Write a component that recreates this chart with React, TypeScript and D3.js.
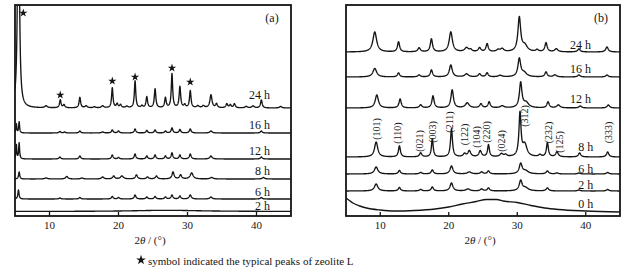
import React from 'react';
import * as d3 from 'd3';

const W = 637, H = 275;
const xDomain: [number, number] = [5, 45];
const xTicks = [10, 20, 30, 40];

// ---------- Panel (a) ----------
const seriesA = ['24 h', '16 h', '12 h', '8 h', '6 h', '2 h'];
const offsetsA = [108, 83, 57, 37, 17, 4.5];
const labelLevelA = [121, 91, 65, 45, 24, 10];
const labelXA = [38.9, 38.9, 38.9, 39.8, 39.8, 39.8];
// peaks: [2theta, height, hwhm]
const peaksA24 = [
  [5.5, 300, 0.13], [9.5, 2, 0.2], [11.56, 8, 0.13], [12.1, 3, 0.15], [14.4, 10.5, 0.13],
  [15.3, 2, 0.2], [16.5, 1, 0.2], [17.7, 2, 0.2], [19.1, 20, 0.12], [19.8, 4, 0.15],
  [20.3, 3, 0.15], [21.2, 1.5, 0.2], [22.4, 27, 0.12], [23.4, 2, 0.15], [24.1, 11, 0.13],
  [25.3, 19, 0.13], [26.8, 10, 0.13], [27.75, 34, 0.12], [28.9, 21, 0.13], [29.6, 3, 0.15],
  [30.4, 17, 0.13], [31.5, 2, 0.2], [32.3, 2, 0.2], [33.4, 13, 0.18], [34.2, 4, 0.15],
  [35.7, 4, 0.15], [36.2, 3, 0.15], [36.8, 4, 0.15], [38.5, 1.5, 0.2], [39.5, 2, 0.2],
  [40.7, 8, 0.14], [43.5, 1.5, 0.2],
];
const peaksA16 = [
  [5.2, 9, 0.07], [5.6, 11, 0.08], [11.5, 1.5, 0.15], [12.2, 1, 0.15], [14.4, 2, 0.15],
  [17.7, 1, 0.2], [19.1, 3, 0.14], [20, 2, 0.15], [22.4, 4, 0.14], [24.1, 2.5, 0.14],
  [25.3, 3, 0.14], [26.8, 2, 0.14], [27.75, 5, 0.14], [28.9, 3.5, 0.14], [30.4, 4, 0.15],
  [33.4, 2, 0.2], [40.7, 2, 0.15],
];
const peaksA12 = [
  [5.2, 14, 0.07], [5.6, 16, 0.08], [11.5, 2, 0.15], [14.4, 3, 0.15], [19.1, 4, 0.14],
  [20, 1.5, 0.15], [22.4, 5, 0.14], [24.1, 3, 0.14], [25.3, 4, 0.14], [26.8, 3, 0.14],
  [27.75, 6, 0.14], [28.9, 4, 0.14], [30.4, 5, 0.15], [33.4, 3, 0.2], [40.7, 2, 0.15],
];
const peaksA8 = [
  [5.6, 7, 0.1], [9.5, 1, 0.25], [12.5, 2.5, 0.2], [14.7, 1, 0.2], [17.7, 2, 0.2],
  [19.3, 3, 0.18], [20.5, 3, 0.25], [22.6, 4, 0.18], [24.2, 2, 0.18], [25.5, 3, 0.18],
  [27.9, 7, 0.18], [29, 4, 0.18], [30.6, 6, 0.25], [33.5, 1.5, 0.25], [41, 1.5, 0.2],
];
const peaksA6 = [
  [5.5, 9, 0.1], [11.5, 1, 0.15], [14.4, 1.5, 0.15], [19.1, 2.5, 0.15], [20, 1.5, 0.15],
  [22.4, 4, 0.15], [24.1, 2, 0.15], [25.3, 2.5, 0.15], [26.8, 2, 0.15], [27.75, 4, 0.15],
  [28.9, 3, 0.15], [30.4, 4, 0.18], [33.4, 2, 0.2], [40.7, 1.5, 0.15],
];
const peaksA2 = [[27, 1.2, 6]];
const peaksA = [peaksA24, peaksA16, peaksA12, peaksA8, peaksA6, peaksA2];
const starsA = [6.2, 11.56, 19.1, 22.4, 27.75, 30.4];
const starLevelA = [203, 121, 135, 139, 148, 134];

// ---------- Panel (b) ----------
const seriesB = ['24 h', '16 h', '12 h', '8 h', '6 h', '2 h', '0 h'];
const offsetsB = [164, 139, 108, 59, 42, 25, 0];
const labelLevelB = [171, 147.7, 117.7, 69, 47.7, 31, 12];
const labelXB = [37.7, 37.7, 37.7, 38.9, 38.9, 38.9, 38.9];
const peaksB24 = [
  [9.2, 20, 0.33], [12.67, 10, 0.19], [15.67, 4, 0.22], [17.47, 13, 0.19], [20.3, 20, 0.28],
  [22.6, 4, 0.33], [23.2, 2, 0.22], [24.5, 4, 0.22], [25.6, 8, 0.19], [27.2, 2, 0.28],
  [27.8, 3, 0.28], [30.3, 34, 0.24], [31.1, 6, 0.45], [32.9, 2, 0.22], [34.2, 9, 0.2],
  [35.7, 3, 0.28], [39, 3, 0.22], [43.1, 5, 0.22],
];
const peaksB16 = [
  [9.2, 8.5, 0.33], [12.67, 4, 0.19], [15.67, 2, 0.22], [17.47, 7, 0.19], [20.3, 12, 0.25],
  [22.6, 3, 0.33], [24.5, 3, 0.22], [25.6, 4, 0.19], [27.5, 1.5, 0.33], [30.3, 18, 0.24],
  [31, 4, 0.45], [34.2, 5, 0.2], [35.5, 2, 0.28], [39, 2, 0.22], [43.1, 2, 0.22],
];
const peaksB12 = [
  [9.5, 13, 0.28], [12.9, 9, 0.19], [15.9, 3, 0.22], [17.7, 12, 0.19], [20.5, 18, 0.22],
  [22.7, 5, 0.33], [24.7, 4, 0.22], [25.9, 6, 0.19], [27.8, 2, 0.33], [30.5, 25, 0.22],
  [31.3, 5, 0.45], [34.5, 6, 0.2], [36, 3, 0.28], [39.2, 2, 0.22], [43.3, 3, 0.22],
];
const peaksB8 = [
  [9.4, 15, 0.28], [12.8, 11, 0.17], [15.9, 4, 0.2], [17.6, 18, 0.15], [20.4, 28, 0.17],
  [22.3, 3, 0.22], [23, 6, 0.25], [24.6, 6, 0.22], [25.8, 12, 0.16], [27.7, 3, 0.28],
  [28.3, 2, 0.22], [30.4, 43, 0.18], [31.1, 12, 0.38], [33.3, 2, 0.22], [34.4, 14, 0.17],
  [35.8, 5, 0.22], [39.1, 4, 0.2], [43.2, 5, 0.2],
];
const peaksB6 = [
  [9.4, 7, 0.3], [12.8, 3.5, 0.19], [15.9, 1.5, 0.22], [17.6, 4, 0.19], [20.4, 8, 0.25],
  [23, 2, 0.33], [24.8, 2, 0.22], [25.8, 3, 0.19], [30.5, 10, 0.25], [31.2, 3, 0.5],
  [34.4, 3, 0.22], [35.8, 1, 0.22], [39, 1, 0.22], [43.2, 1.5, 0.22],
];
const peaksB2 = [
  [9.4, 7, 0.3], [12.8, 3.5, 0.19], [15.9, 1.5, 0.22], [17.6, 4, 0.19], [20.4, 8, 0.25],
  [22.8, 2, 0.33], [24.8, 2, 0.22], [25.8, 3, 0.19], [30.5, 10, 0.25], [31.2, 3, 0.5],
  [34.4, 3, 0.22], [39, 1, 0.22], [43.2, 1.5, 0.22],
];
const peaksB = [peaksB24, peaksB16, peaksB12, peaksB8, peaksB6, peaksB2, []];
// amorphous 0 h pattern: [2theta, level]
const amorphous0h = [
  [5, 18], [5.5, 15.5], [6, 13], [7, 10], [8, 8], [10, 6], [12, 5], [15, 5.5], [18, 7],
  [20, 9], [22, 12], [24, 14.5], [25.5, 16.5], [27, 16.5], [28, 15], [30, 13.5], [32, 10.5],
  [34, 8], [36, 6.5], [40, 5], [45, 4],
];
const hklLabels = ['(101)', '(110)', '(021)', '(003)', '(211)', '(122)', '(104)', '(220)', '(024)', '(312)', '(232)', '(125)', '(333)'];
const hklPos = [9.48, 12.59, 15.8, 17.66, 20.18, 22.37, 24.08, 25.54, 27.73, 30.99, 34.53, 36.1, 43.3];
const hklLevel = [87, 83, 75, 84, 94, 81.5, 79, 84, 75, 100, 83.5, 74, 83.5];

const FONT = "'Liberation Serif', 'Times New Roman', serif";
const INK = '#151515';

function trace(peaks: number[][], offset: number): [number, number][] {
  const pts: [number, number][] = [];
  for (let i = 0; i <= 1600; i++) {
    const x = 5 + i * 0.025;
    let y = offset;
    for (const [c, h, g] of peaks) {
      const d = (x - c) / g;
      y += h / (1 + d * d);
    }
    pts.push([x, y]);
  }
  return pts;
}

function Star({ x, y, size = 22 }: { x: number; y: number; size?: number }) {
  const p = d3.symbol().type(d3.symbolStar).size(size)() as string;
  return <path d={p} transform={`translate(${x},${y})`} fill={INK} />;
}

function Panel(props: {
  id: string; x0: number; x1: number; top: number; bottom: number; letter: string;
  series: string[]; offsets: number[]; peaks: number[][][]; labelLevel: number[]; labelX: number[];
  children?: (x: d3.ScaleLinear<number, number>, y: d3.ScaleLinear<number, number>) => React.ReactNode;
}) {
  const { id, x0, x1, top, bottom, letter, series, offsets, peaks, labelLevel, labelX } = props;
  const x = d3.scaleLinear().domain(xDomain).range([x0, x1]);
  const y = d3.scaleLinear().domain([0, bottom - top]).range([bottom, top]);
  const line = d3.line<[number, number]>().x(d => x(d[0])).y(d => y(d[1]));
  const smooth = d3.line<number[]>().x(d => x(d[0])).y(d => y(d[1])).curve(d3.curveMonotoneX);
  return (
    <g>
      <defs>
        <clipPath id={id}>
          <rect x={x0} y={top} width={x1 - x0} height={bottom - top} />
        </clipPath>
      </defs>
      <g clipPath={`url(#${id})`}>
        {series.map((s, i) => (
          <path key={s}
            d={peaks[i].length ? (line(trace(peaks[i], offsets[i])) as string) : (smooth(amorphous0h) as string)}
            fill="none" stroke={INK} strokeWidth={1.35} strokeLinejoin="round" />
        ))}
      </g>
      {series.map((s, i) => (
        <text key={s} x={x(labelX[i])} y={y(labelLevel[i])} dy="0.35em" fontFamily={FONT} fontSize={12} fill={INK}>{s}</text>
      ))}
      <rect x={x0} y={top} width={x1 - x0} height={bottom - top} fill="none" stroke={INK} strokeWidth={1.8} />
      {xTicks.map(t => (
        <g key={t}>
          <line x1={x(t)} x2={x(t)} y1={bottom} y2={bottom - 4} stroke={INK} strokeWidth={1.3} />
          <text x={x(t)} y={bottom + 9} dy="0.35em" textAnchor="middle" fontFamily={FONT} fontSize={11} fill={INK}>{t}</text>
        </g>
      ))}
      <text x={x1 - 19} y={top + 13} dy="0.35em" textAnchor="middle" fontFamily={FONT} fontSize={12} fill={INK}>{letter}</text>
      <text x={(x0 + x1) / 2 - 3} y={bottom + 24} dy="0.35em" textAnchor="middle" fontFamily={FONT} fontSize={11} fill={INK}>
        2<tspan fontStyle="italic">θ</tspan> / (°)
      </text>
      {props.children ? props.children(x, y) : null}
    </g>
  );
}

export default function App() {
  return (
    <svg width={W} height={H} style={{ position: 'absolute', left: 0, top: 0, background: '#fff' }}>
      <rect width={W} height={H} fill="#fff" />
      <Panel id="ca" x0={15} x1={291} top={5} bottom={216} letter="(a)"
        series={seriesA} offsets={offsetsA} peaks={peaksA} labelLevel={labelLevelA} labelX={labelXA}>
        {(x, y) => starsA.map((s, i) => <Star key={i} x={x(s)} y={y(starLevelA[i])} />)}
      </Panel>
      <Panel id="cb" x0={346} x1={620} top={5} bottom={216} letter="(b)"
        series={seriesB} offsets={offsetsB} peaks={peaksB} labelLevel={labelLevelB} labelX={labelXB}>
        {(x, y) => hklLabels.map((h, i) => (
          <text key={h} transform={`translate(${x(hklPos[i])},${y(hklLevel[i])}) rotate(-90)`}
            textAnchor="middle" dy="0.35em" fontFamily={FONT} fontSize={10} fill={INK}>{h}</text>
        ))}
      </Panel>
      <Star x={141} y={260} size={30} />
      <text x={148} y={261} dy="0.35em" fontFamily={FONT} fontSize={11} fill={INK}>symbol indicated the typical peaks of zeolite L</text>
    </svg>
  );
}
